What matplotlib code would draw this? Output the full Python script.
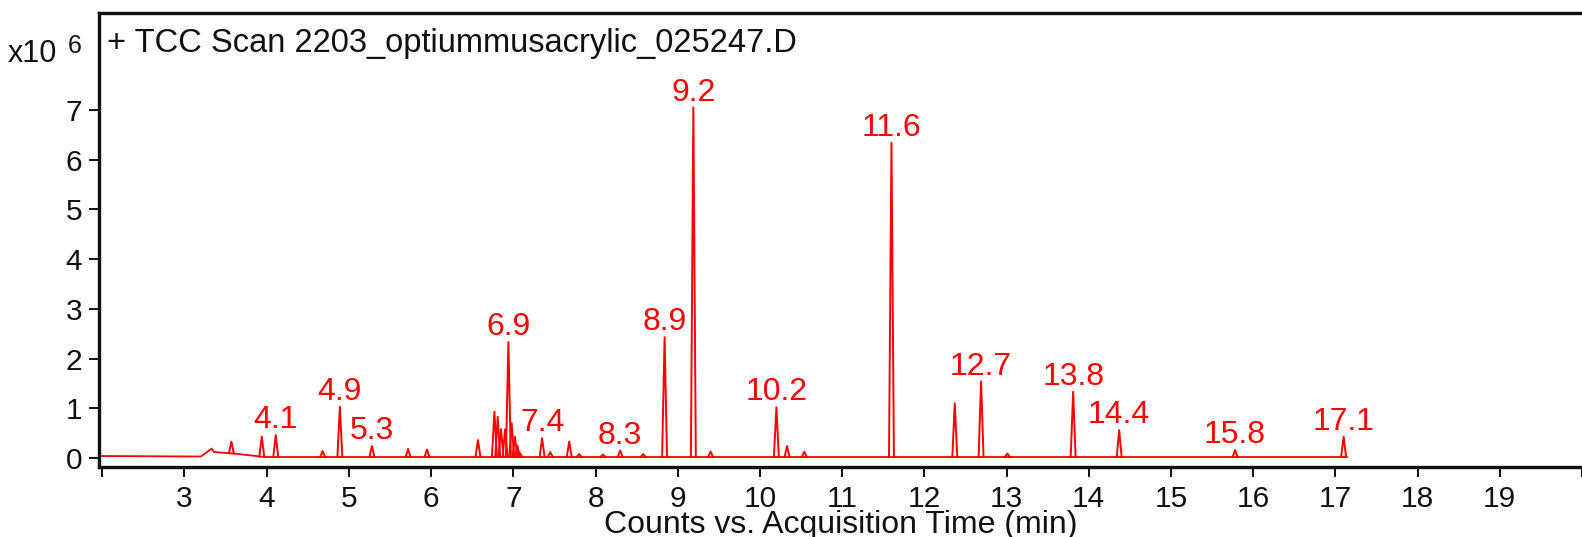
import numpy as np
import matplotlib.pyplot as plt

plt.rcParams['font.family'] = ['Liberation Sans', 'DejaVu Sans']

# retention time (min) and apex height (x10^6 counts)
peak_rt = [3.57, 3.94, 4.11, 4.68, 4.89, 5.28, 5.72, 5.95, 6.57,
           6.77, 6.81, 6.85, 6.90, 6.94, 6.98, 7.02, 7.05, 7.08,
           7.35, 7.45, 7.68, 7.80, 8.09, 8.30, 8.58, 8.84, 9.19, 9.40,
           10.20, 10.33, 10.54, 11.60, 12.37, 12.69, 13.01, 13.81,
           14.37, 15.78, 17.10]
peak_h = [0.33, 0.43, 0.46, 0.14, 1.03, 0.24, 0.18, 0.17, 0.36,
          0.93, 0.83, 0.58, 0.58, 2.33, 0.70, 0.43, 0.25, 0.10,
          0.40, 0.12, 0.33, 0.08, 0.07, 0.15, 0.08, 2.43, 7.05, 0.13,
          1.02, 0.24, 0.13, 6.34, 1.10, 1.54, 0.09, 1.33,
          0.56, 0.16, 0.43]

# baseline of the trace (incl. the small hump near 3.3 min)
base_t = [1.96, 3.20, 3.33, 3.36, 3.60, 3.98, 17.14]
base_y = [0.04, 0.03, 0.19, 0.12, 0.09, 0.02, 0.02]

# labelled peaks
label_rt = [4.11, 4.89, 5.28, 6.94, 7.35, 8.30, 8.84, 9.19, 10.20,
            11.60, 12.69, 13.81, 14.37, 15.78, 17.10]
label_txt = ['4.1', '4.9', '5.3', '6.9', '7.4', '8.3', '8.9', '9.2', '10.2',
             '11.6', '12.7', '13.8', '14.4', '15.8', '17.1']

red = '#ff0000'
ink = '#111111'
W, H = 1582, 537

fig = plt.figure(figsize=(W / 100, H / 100), dpi=100)
ax = fig.add_axes([99 / W, 1 - 467 / H, (W - 99) / W, (467 - 13.3) / H])

ax.plot(base_t, base_y, color=red, lw=1.3)
hw = 0.03
for t, h in zip(peak_rt, peak_h):
    b = np.interp(t, base_t, base_y)
    ax.plot([t - hw, t, t + hw], [b, h, b], color=red, lw=1.4)

heights = dict(zip(peak_rt, peak_h))
for t, s in zip(label_rt, label_txt):
    ax.annotate(s, xy=(t, heights[t]), xytext=(0, 5), textcoords='offset points',
                ha='center', va='baseline', color=red, fontsize=23)

ax.set_xlim(1.96, 20.0)
ax.set_ylim(-0.181, 8.946)

ax.set_xticks(range(2, 21))
ax.set_xticklabels([''] + [str(i) for i in range(3, 20)] + [''])
ax.set_yticks(range(0, 8))
ax.tick_params(axis='both', direction='out', length=7, width=1.4,
               labelsize=21.5, colors=ink)
ax.tick_params(axis='x', pad=6)
ax.tick_params(axis='y', pad=5)

for side in ['left', 'bottom', 'top']:
    ax.spines[side].set_linewidth(2.4)
    ax.spines[side].set_color(ink)
ax.spines['right'].set_visible(False)

fig.text(107 / W, 1 - 52 / H, '+ TCC Scan 2203_optiummusacrylic_025247.D',
         fontsize=23.5, va='baseline', ha='left', color=ink)
fig.text(8 / W, 1 - 62 / H, 'x10', fontsize=22, va='baseline', ha='left', color=ink)
fig.text(68 / W, 1 - 53 / H, '6', fontsize=18, va='baseline', ha='left', color=ink)
fig.text(841 / W, 1 - 533 / H, 'Counts vs. Acquisition Time (min)', fontsize=23,
         va='baseline', ha='center', color=ink)

fig.savefig('out.png', dpi=100)
